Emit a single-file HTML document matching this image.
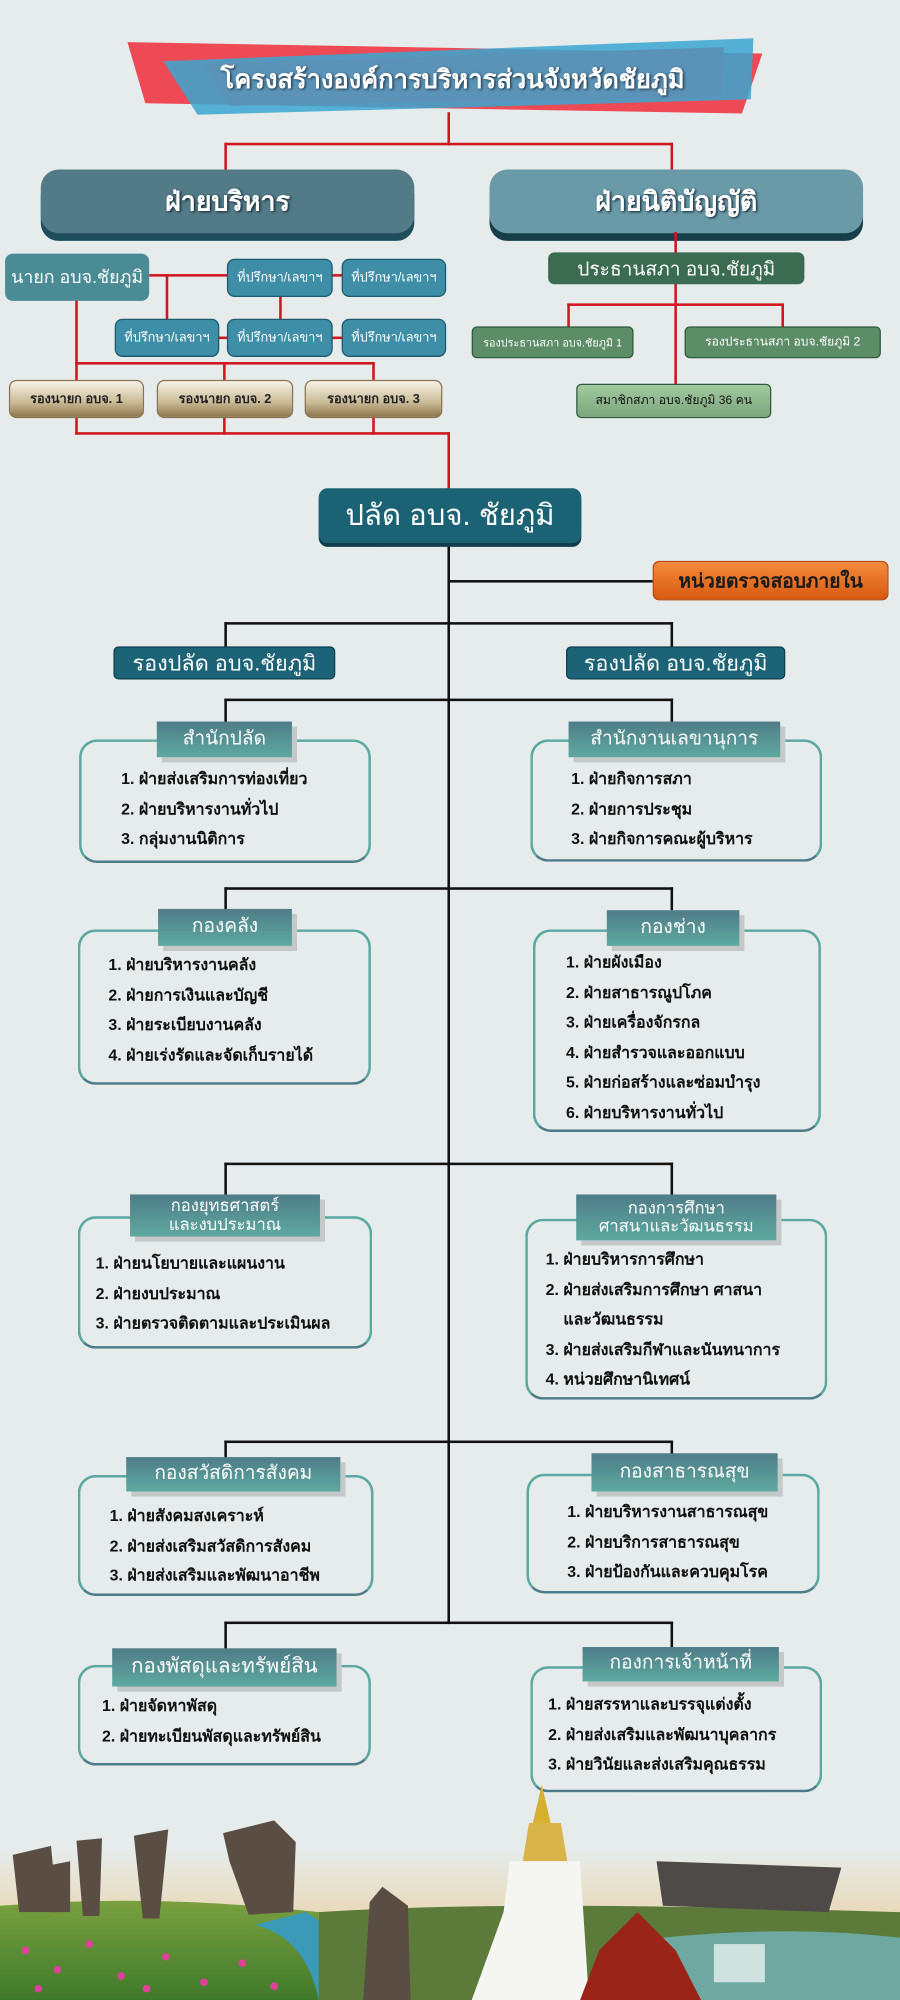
<!DOCTYPE html>
<html><head><meta charset="utf-8">
<style>
*{margin:0;padding:0;box-sizing:border-box}
html,body{width:900px;height:2000px;overflow:hidden;background:#e6ecec}
#w{position:absolute;left:0;top:0;width:706px;height:1569px;transform:scale(1.27479);transform-origin:0 0;font-family:"Liberation Sans","DejaVu Sans",sans-serif}
.a{position:absolute}
.c{display:flex;align-items:center;justify-content:center;text-align:center;white-space:nowrap}
.r{position:absolute;background:#d0161e}
.k{position:absolute;background:#111}
.big{border-radius:14px;color:#fff;font-weight:bold;font-size:21px;text-shadow:1px 1px 2px #123}
.adv{background:#3e8ea8;border:1.5px solid #1d5a6e;border-radius:6px;color:#fff;font-size:10px}
.dep{background:linear-gradient(#f7f3e8,#c9b994 60%,#8d7650);border:1px solid #8a7450;border-radius:6px;color:#222;font-size:10px;font-weight:bold}
.grn{background:#5d8d67;border:1.5px solid #2f5a3c;border-radius:4px;color:#fff;font-size:9.5px}
.out{border:2.5px solid #5aa8a0;border-bottom-color:#4d7c88;border-radius:14px}
.tab{background:linear-gradient(#4f7c88,#5ea99f);color:#fff;font-size:15px;box-shadow:4px 4px 0 #c4c8c8;line-height:1.1}
.ls{position:absolute;font-size:12.5px;color:#111;white-space:nowrap;line-height:23.5px;font-weight:bold}
.dp{background:#1c6378;border:1.5px solid #0e3f4e;border-radius:4px;color:#fff;font-size:17px}
</style></head><body><div id="w">
<svg class="a" style="left:0;top:0" width="706" height="100">
<polygon points="100,33 598,42 582,89 114,81" fill="#ee4a55"/>
<polygon points="128,48 591,30 589,78 155,90" fill="#3aa6d0" opacity="0.85"/>
<polygon points="160,50 568,37 566,76 180,83" fill="#5a93b7"/>
</svg>
<div class="a c" style="left:120px;top:44px;width:470px;height:36px;color:#fff;font-weight:bold;font-size:20px;text-shadow:1px 1px 2px #234">โครงสร้างองค์การบริหารส่วนจังหวัดชัยภูมิ</div>
<div class="r" style="left:351px;top:88px;width:2px;height:26px"></div>
<div class="r" style="left:176px;top:112px;width:352px;height:2px"></div>
<div class="r" style="left:176px;top:112px;width:2px;height:22px"></div>
<div class="r" style="left:526px;top:112px;width:2px;height:22px"></div>
<div class="a c big" style="left:32px;top:133px;width:293px;height:50px;background:#527b87;box-shadow:0 6px 0 #1e4d5c">ฝ่ายบริหาร</div>
<div class="a c big" style="left:384px;top:133px;width:293px;height:50px;background:#6a9aa8;box-shadow:0 6px 0 #163f4a">ฝ่ายนิติบัญญัติ</div>
<div class="r" style="left:117px;top:215px;width:62px;height:2px"></div>
<div class="r" style="left:260px;top:215px;width:9px;height:2px"></div>
<div class="r" style="left:130px;top:215px;width:2px;height:36px"></div>
<div class="r" style="left:219px;top:232px;width:2px;height:19px"></div>
<div class="r" style="left:171px;top:264px;width:8px;height:2px"></div>
<div class="r" style="left:260px;top:264px;width:9px;height:2px"></div>
<div class="r" style="left:59px;top:235px;width:2px;height:64px"></div>
<div class="r" style="left:59px;top:284px;width:235px;height:2px"></div>
<div class="r" style="left:175px;top:284px;width:2px;height:14px"></div>
<div class="r" style="left:292px;top:284px;width:2px;height:14px"></div>
<div class="r" style="left:59px;top:327px;width:2px;height:14px"></div>
<div class="r" style="left:175px;top:327px;width:2px;height:14px"></div>
<div class="r" style="left:292px;top:327px;width:2px;height:14px"></div>
<div class="r" style="left:59px;top:339px;width:294px;height:2px"></div>
<div class="r" style="left:351px;top:339px;width:2px;height:45px"></div>
<div class="a c" style="left:4px;top:199px;width:113px;height:37px;background:#4a8b95;border-radius:6px;color:#fff;font-size:14px">นายก อบจ.ชัยภูมิ</div>
<div class="a c adv" style="left:178px;top:203px;width:83px;height:30px">ที่ปรึกษา/เลขาฯ</div>
<div class="a c adv" style="left:268px;top:203px;width:82px;height:30px">ที่ปรึกษา/เลขาฯ</div>
<div class="a c adv" style="left:90px;top:250px;width:82px;height:30px">ที่ปรึกษา/เลขาฯ</div>
<div class="a c adv" style="left:178px;top:250px;width:83px;height:30px">ที่ปรึกษา/เลขาฯ</div>
<div class="a c adv" style="left:268px;top:250px;width:82px;height:30px">ที่ปรึกษา/เลขาฯ</div>
<div class="a c dep" style="left:7px;top:298px;width:106px;height:30px">รองนายก อบจ. 1</div>
<div class="a c dep" style="left:123px;top:298px;width:107px;height:30px">รองนายก อบจ. 2</div>
<div class="a c dep" style="left:239px;top:298px;width:108px;height:30px">รองนายก อบจ. 3</div>
<div class="r" style="left:529px;top:182px;width:2px;height:120px"></div>
<div class="r" style="left:445px;top:238px;width:170px;height:2px"></div>
<div class="r" style="left:445px;top:238px;width:2px;height:19px"></div>
<div class="r" style="left:613px;top:238px;width:2px;height:19px"></div>
<div class="a c" style="left:430px;top:198px;width:201px;height:25px;background:#3b6b50;border-radius:5px;color:#fff;font-size:15px">ประธานสภา อบจ.ชัยภูมิ</div>
<div class="a c grn" style="left:370px;top:256px;width:127px;height:25px;font-size:8.5px">รองประธานสภา อบจ.ชัยภูมิ 1</div>
<div class="a c grn" style="left:537px;top:256px;width:154px;height:25px">รองประธานสภา อบจ.ชัยภูมิ 2</div>
<div class="a c grn" style="left:452px;top:301px;width:153px;height:27px;background:linear-gradient(#a3c9a0,#7aa67c);color:#111">สมาชิกสภา อบจ.ชัยภูมิ 36 คน</div>
<div class="k" style="left:351px;top:424px;width:2px;height:850px"></div>
<div class="a c" style="left:250px;top:383px;width:206px;height:43px;background:#1b6275;border-radius:7px;box-shadow:0 3px 0 #0e3f4e;color:#fff;font-size:23px">ปลัด อบจ. ชัยภูมิ</div>
<div class="k" style="left:352px;top:455px;width:160px;height:2px"></div>
<div class="a c" style="left:512px;top:440px;width:185px;height:31px;background:linear-gradient(#f48a3a,#d85a12);border:1px solid #b84a10;border-radius:5px;color:#1a1a1a;font-weight:bold;font-size:15px">หน่วยตรวจสอบภายใน</div>
<div class="k" style="left:176px;top:488px;width:352px;height:2px"></div>
<div class="k" style="left:176px;top:488px;width:2px;height:20px"></div>
<div class="k" style="left:526px;top:488px;width:2px;height:20px"></div>
<div class="a c dp" style="left:89px;top:507px;width:174px;height:26px">รองปลัด อบจ.ชัยภูมิ</div>
<div class="a c dp" style="left:444px;top:507px;width:172px;height:26px">รองปลัด อบจ.ชัยภูมิ</div>
<div class="k" style="left:176px;top:548px;width:352px;height:2px"></div>
<div class="k" style="left:176px;top:548px;width:2px;height:20px"></div>
<div class="k" style="left:526px;top:548px;width:2px;height:20px"></div>
<div class="k" style="left:176px;top:696px;width:352px;height:2px"></div>
<div class="k" style="left:176px;top:696px;width:2px;height:18px"></div>
<div class="k" style="left:526px;top:696px;width:2px;height:18px"></div>
<div class="k" style="left:176px;top:912px;width:352px;height:2px"></div>
<div class="k" style="left:176px;top:912px;width:2px;height:26px"></div>
<div class="k" style="left:526px;top:912px;width:2px;height:26px"></div>
<div class="k" style="left:176px;top:1130px;width:352px;height:2px"></div>
<div class="k" style="left:176px;top:1130px;width:2px;height:14px"></div>
<div class="k" style="left:526px;top:1130px;width:2px;height:14px"></div>
<div class="k" style="left:176px;top:1272px;width:352px;height:2px"></div>
<div class="k" style="left:176px;top:1272px;width:2px;height:22px"></div>
<div class="k" style="left:526px;top:1272px;width:2px;height:22px"></div>

<div class="a out" style="left:62px;top:580px;width:229px;height:97px"></div>
<div class="a c tab" style="left:123px;top:566px;width:106px;height:28px">สำนักปลัด</div>
<div class="ls" style="left:95px;top:600px">1. ฝ่ายส่งเสริมการท่องเที่ยว<br>2. ฝ่ายบริหารงานทั่วไป<br>3. กลุ่มงานนิติการ</div>
<div class="a out" style="left:416px;top:580px;width:229px;height:96px"></div>
<div class="a c tab" style="left:446px;top:566px;width:166px;height:28px">สำนักงานเลขานุการ</div>
<div class="ls" style="left:448px;top:600px">1. ฝ่ายกิจการสภา<br>2. ฝ่ายการประชุม<br>3. ฝ่ายกิจการคณะผู้บริหาร</div>
<div class="a out" style="left:61px;top:729px;width:230px;height:122px"></div>
<div class="a c tab" style="left:124px;top:713px;width:105px;height:29px">กองคลัง</div>
<div class="ls" style="left:85px;top:746px">1. ฝ่ายบริหารงานคลัง<br>2. ฝ่ายการเงินและบัญชี<br>3. ฝ่ายระเบียบงานคลัง<br>4. ฝ่ายเร่งรัดและจัดเก็บรายได้</div>
<div class="a out" style="left:418px;top:729px;width:226px;height:159px"></div>
<div class="a c tab" style="left:476px;top:714px;width:104px;height:28px">กองช่าง</div>
<div class="ls" style="left:444px;top:744px">1. ฝ่ายผังเมือง<br>2. ฝ่ายสาธารณูปโภค<br>3. ฝ่ายเครื่องจักรกล<br>4. ฝ่ายสำรวจและออกแบบ<br>5. ฝ่ายก่อสร้างและซ่อมบำรุง<br>6. ฝ่ายบริหารงานทั่วไป</div>
<div class="a out" style="left:61px;top:954px;width:231px;height:104px"></div>
<div class="a c tab" style="left:102px;top:937px;width:149px;height:33px;font-size:13px">กองยุทธศาสตร์<br>และงบประมาณ</div>
<div class="ls" style="left:75px;top:980px">1. ฝ่ายนโยบายและแผนงาน<br>2. ฝ่ายงบประมาณ<br>3. ฝ่ายตรวจติดตามและประเมินผล</div>
<div class="a out" style="left:412px;top:956px;width:237px;height:142px"></div>
<div class="a c tab" style="left:452px;top:937px;width:157px;height:36px;font-size:13px">กองการศึกษา<br>ศาสนาและวัฒนธรรม</div>
<div class="ls" style="left:428px;top:977px">1. ฝ่ายบริหารการศึกษา<br>2. ฝ่ายส่งเสริมการศึกษา ศาสนา<br>&nbsp;&nbsp;&nbsp;&nbsp;และวัฒนธรรม<br>3. ฝ่ายส่งเสริมกีฬาและนันทนาการ<br>4. หน่วยศึกษานิเทศน์</div>
<div class="a out" style="left:61px;top:1157px;width:232px;height:95px"></div>
<div class="a c tab" style="left:99px;top:1143px;width:168px;height:27px">กองสวัสดิการสังคม</div>
<div class="ls" style="left:86px;top:1178px">1. ฝ่ายสังคมสงเคราะห์<br>2. ฝ่ายส่งเสริมสวัสดิการสังคม<br>3. ฝ่ายส่งเสริมและพัฒนาอาชีพ</div>
<div class="a out" style="left:413px;top:1156px;width:230px;height:94px"></div>
<div class="a c tab" style="left:464px;top:1140px;width:146px;height:30px">กองสาธารณสุข</div>
<div class="ls" style="left:445px;top:1175px">1. ฝ่ายบริหารงานสาธารณสุข<br>2. ฝ่ายบริการสาธารณสุข<br>3. ฝ่ายป้องกันและควบคุมโรค</div>
<div class="a out" style="left:61px;top:1306px;width:230px;height:79px"></div>
<div class="a c tab" style="left:88px;top:1293px;width:176px;height:30px;font-size:16px">กองพัสดุและทรัพย์สิน</div>
<div class="ls" style="left:80px;top:1327px">1. ฝ่ายจัดหาพัสดุ<br>2. ฝ่ายทะเบียนพัสดุและทรัพย์สิน</div>
<div class="a out" style="left:416px;top:1307px;width:229px;height:99px"></div>
<div class="a c tab" style="left:457px;top:1292px;width:154px;height:27px">กองการเจ้าหน้าที่</div>
<div class="ls" style="left:430px;top:1326px">1. ฝ่ายสรรหาและบรรจุแต่งตั้ง<br>2. ฝ่ายส่งเสริมและพัฒนาบุคลากร<br>3. ฝ่ายวินัยและส่งเสริมคุณธรรม</div>

<svg class="a" style="left:0;top:1400px" width="706" height="169">
<defs>
<linearGradient id="sky" x1="0" y1="0" x2="0" y2="1"><stop offset="0" stop-color="#e6ecec"/><stop offset="0.45" stop-color="#e8d9b8"/><stop offset="1" stop-color="#c9a060"/></linearGradient>
<linearGradient id="gr" x1="0" y1="0" x2="0" y2="1"><stop offset="0" stop-color="#7aa040"/><stop offset="1" stop-color="#3f7a2a"/></linearGradient>
</defs>
<rect x="0" y="50" width="706" height="119" fill="url(#sky)"/>
<path d="M0 95 Q120 85 250 100 L250 169 L0 169Z" fill="url(#gr)"/>
<path d="M200 110 Q240 120 250 169 L290 169 Q275 120 240 100Z" fill="#3a9ab8"/>
<path d="M250 100 Q400 90 706 100 L706 169 L250 169Z" fill="#5c7a3a"/>
<path d="M520 120 Q620 110 706 120 L706 169 L520 169Z" fill="#6ea8a0"/>
<g fill="#5a4e44">
<path d="M10 55 L40 48 L45 100 L15 100Z"/><path d="M40 63 L55 60 L55 100 L42 100Z"/>
<path d="M60 44 L80 42 L78 103 L65 103Z"/><path d="M105 40 L132 35 L125 105 L112 105Z"/>
<path d="M175 38 L215 28 L232 45 L230 100 L195 102 L180 60Z"/>
<path d="M290 92 L300 80 L320 95 L322 169 L285 169Z"/>
</g>
<path d="M425 0 L432 30 L418 30Z" fill="#d6b030"/>
<path d="M415 30 L440 30 L445 60 L410 60Z" fill="#d8b44a"/>
<path d="M400 60 L455 60 L462 169 L370 169 L395 100Z" fill="#f5f5f2"/>
<path d="M470 130 L500 100 L530 130 L550 169 L455 169Z" fill="#9a2418"/>
<path d="M515 60 L660 65 L650 100 L520 95Z" fill="#4d4a48"/>
<g fill="#e0409a"><circle cx="20" cy="130" r="3"/><circle cx="45" cy="145" r="3"/><circle cx="70" cy="125" r="3"/><circle cx="95" cy="150" r="3"/><circle cx="130" cy="135" r="3"/><circle cx="160" cy="155" r="3"/><circle cx="190" cy="140" r="3"/><circle cx="215" cy="158" r="3"/><circle cx="30" cy="160" r="3"/><circle cx="115" cy="160" r="3"/></g>
<rect x="560" y="125" width="40" height="30" fill="#e8f0f0" opacity="0.8"/>
</svg>
</div></body></html>
